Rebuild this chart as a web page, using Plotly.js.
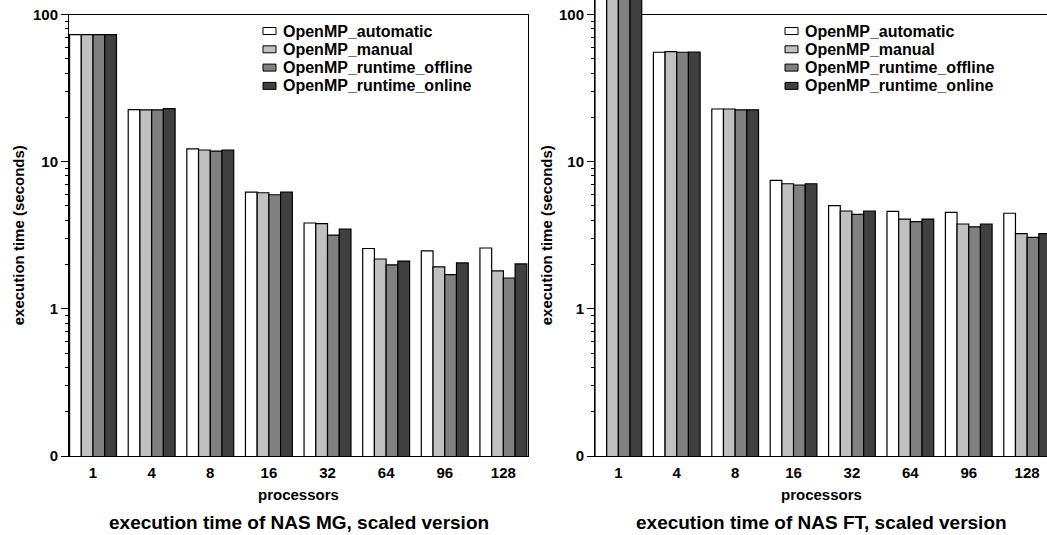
<!DOCTYPE html>
<html>
<head>
<meta charset="utf-8">
<script src="https://cdn.plot.ly/plotly-3.0.1.min.js"></script>
<style>
  html, body { margin: 0; padding: 0; background: #ffffff; }
  #chart { width: 1047px; height: 535px; }
</style>
</head>
<body>
<div id="chart"></div>
<script>
// Processor counts (x categories)
const processors = ['1', '4', '8', '16', '32', '64', '96', '128'];

// Series names and fills
const seriesNames = ['OpenMP_automatic', 'OpenMP_manual', 'OpenMP_runtime_offline', 'OpenMP_runtime_online'];
const seriesColors = ['#ffffff', '#c0c0c0', '#808080', '#404040'];

// NAS MG, scaled version: execution time (seconds)
const mgAutomatic = [73, 22.6, 12.2, 6.2, 3.83, 2.57, 2.48, 2.59];
const mgManual    = [73, 22.5, 12.0, 6.15, 3.79, 2.18, 1.93, 1.81];
const mgOffline   = [73, 22.5, 11.8, 5.96, 3.17, 1.99, 1.71, 1.62];
const mgOnline    = [73, 22.9, 12.0, 6.2, 3.48, 2.11, 2.05, 2.02];

// NAS FT, scaled version: execution time (seconds)
const ftAutomatic = [150, 55.4, 22.8, 7.46, 5.02, 4.59, 4.52, 4.46];
const ftManual    = [150, 55.9, 22.8, 7.08, 4.62, 4.07, 3.77, 3.24];
const ftOffline   = [150, 55.4, 22.5, 6.94, 4.38, 3.91, 3.61, 3.06];
const ftOnline    = [150, 55.6, 22.5, 7.08, 4.62, 4.07, 3.77, 3.24];

// Y tick labels (log axis; bottom of range is labelled "0")
const yTickVals = [0.1, 1, 10, 100];
const yTickText = ['0', '1', '10', '100'];

const panelTitles = ['execution time of NAS MG, scaled version', 'execution time of NAS FT, scaled version'];

const W = 1047, H = 535;
const px = x => x / W;
const py = y => 1 - y / H;

const FONT = 'Liberation Sans, Arial, Helvetica, sans-serif';
const boldFont = size => ({ family: FONT, size: size, color: '#000000', weight: 'bold' });

// minor tick positions 2..9 in each decade
const minorVals = [];
[0.1, 1, 10].forEach(d => { for (let k = 2; k <= 9; k++) minorVals.push(+(d * k).toPrecision(3)); });

const mgSeries = [mgAutomatic, mgManual, mgOffline, mgOnline];
const ftSeries = [ftAutomatic, ftManual, ftOffline, ftOnline];

const traces = [];
function addPanel(series, xa, ya) {
  series.forEach((vals, i) => {
    traces.push({
      type: 'bar',
      x: processors,
      y: vals,
      name: seriesNames[i],
      xaxis: xa,
      yaxis: ya,
      showlegend: false,
      marker: { color: seriesColors[i], line: { color: '#000000', width: 1.2 } },
      hoverinfo: 'x+y+name'
    });
  });
}
addPanel(mgSeries, 'x', 'y');
addPanel(ftSeries, 'x2', 'y2');

const xBase = {
  type: 'category',
  showline: true, linecolor: '#000000', linewidth: 1,
  ticks: '', showgrid: false, zeroline: false,
  tickfont: boldFont(15),
  ticklabelstandoff: 3,
  fixedrange: true
};
const yBase = {
  type: 'log',
  tickmode: 'array', tickvals: yTickVals, ticktext: yTickText,
  ticks: 'outside', ticklen: 7, tickwidth: 1, tickcolor: '#000000',
  minor: { tickmode: 'array', tickvals: minorVals, ticks: 'outside', ticklen: 3, tickwidth: 1, tickcolor: '#000000', showgrid: false },
  showline: true, linecolor: '#000000', linewidth: 1,
  showgrid: false, zeroline: false,
  tickfont: boldFont(15),
  fixedrange: true
};

const plotBottom = 456, plotTop = 14.5;

const layout = {
  width: W, height: H,
  margin: { l: 0, r: 0, t: 0, b: 0, pad: 0 },
  paper_bgcolor: '#ffffff', plot_bgcolor: '#ffffff',
  showlegend: false,
  barmode: 'group', bargap: 0.2, bargroupgap: 0,
  xaxis: Object.assign({}, xBase, { domain: [px(69), px(528)], range: [-0.41, 7.42], anchor: 'y', mirror: true }),
  yaxis: Object.assign({}, yBase, { domain: [py(plotBottom), py(plotTop)], range: [-1, 2], anchor: 'x', mirror: true }),
  xaxis2: Object.assign({}, xBase, { domain: [px(595), 1], range: [-0.40, 7.34], anchor: 'y2' }),
  yaxis2: Object.assign({}, yBase, { domain: [py(plotBottom), 1], range: [-1, 2 + plotTop / ((plotBottom - plotTop) / 3)], anchor: 'x2' }),
  shapes: [
    // top frame line of the FT panel at the 100 s level
    { type: 'line', xref: 'x2 domain', yref: 'y2', x0: 0, x1: 1, y0: 100, y1: 100, layer: 'below',
      line: { color: '#000000', width: 1 } }
  ],
  annotations: []
};

// axis titles and panel captions
[['x domain', 0], ['x2 domain', 1]].forEach(([xr, k]) => {
  layout.annotations.push({ xref: xr, yref: 'paper', x: 0.5, y: py(494), xanchor: 'center', yanchor: 'middle',
    text: 'processors', showarrow: false, font: boldFont(15) });
  layout.annotations.push({ xref: xr, yref: 'paper', x: 0.5, y: py(522), xanchor: 'center', yanchor: 'middle',
    text: panelTitles[k], showarrow: false, font: boldFont(19) });
});
[18, 546].forEach(x => {
  layout.annotations.push({ xref: 'paper', yref: 'paper', x: px(x), y: py((plotTop + plotBottom) / 2),
    xanchor: 'center', yanchor: 'middle', textangle: -90,
    text: 'execution time (seconds)', showarrow: false, font: boldFont(15) });
});

// legend keys inside each panel
[263, 785].forEach(sx => {
  seriesNames.forEach((name, i) => {
    const cy = 31 + i * 18.3;
    layout.shapes.push({ type: 'rect', xref: 'paper', yref: 'paper',
      x0: px(sx), x1: px(sx + 13), y0: py(cy + 3.5), y1: py(cy - 3.5),
      fillcolor: seriesColors[i], line: { color: '#000000', width: 1 }, layer: 'above' });
    layout.annotations.push({ xref: 'paper', yref: 'paper', x: px(sx + 18), y: py(cy),
      xanchor: 'left', yanchor: 'middle', text: name, showarrow: false, font: boldFont(16) });
  });
});

Plotly.newPlot('chart', traces, layout, { staticPlot: true, displayModeBar: false });
</script>
</body>
</html>
